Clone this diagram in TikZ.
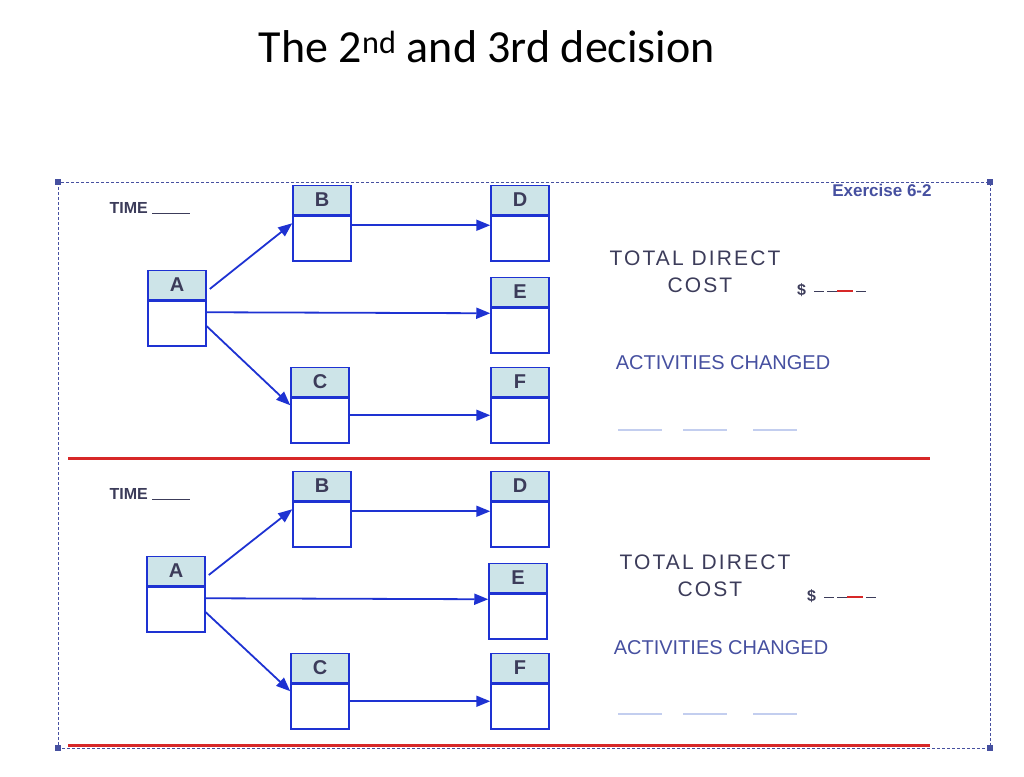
\documentclass[tikz,border=0pt]{standalone}
\usepackage{fontspec}
\setmainfont{Carlito}
\newfontfamily\arl{Liberation Sans}
\usetikzlibrary{arrows.meta}
\definecolor{bx}{RGB}{30,50,210}
\definecolor{hd}{RGB}{205,228,232}
\definecolor{rl}{RGB}{215,40,40}
\definecolor{tx}{RGB}{60,60,90}
\definecolor{lb}{RGB}{70,80,160}
\tikzset{
 hdr/.style={draw=bx,fill=hd,line width=1.5pt,minimum width=58pt,minimum height=29pt,inner sep=0pt,font=\arl\bfseries\fontsize{20}{20}\selectfont,text=tx},
 low/.style={draw=bx,line width=1.5pt,minimum width=58pt,minimum height=45pt,inner sep=0pt},
 arr/.style={draw=bx,line width=1.8pt,-{Triangle[length=14pt,width=11pt]}},
 lab/.style={font=\arl\fontsize{20}{20}\selectfont,text=tx,inner sep=0pt},
 wide/.style={font=\arl\fontsize{21}{21}\selectfont\addfontfeature{LetterSpace=10}},
 blab/.style={font=\arl\bfseries\fontsize{16}{16}\selectfont,text=tx,inner sep=0pt},
 mk/.style={fill=lb,minimum size=6pt,inner sep=0pt}
}
\newcommand{\dollarline}{\$\hspace{8pt}\textcolor{tx}{\rule[3pt]{10pt}{1.5pt}\hspace{3pt}\rule[3pt]{10pt}{1.5pt}}\textcolor{rl}{\rule[3pt]{16pt}{2.5pt}}\hspace{3pt}\textcolor{tx}{\rule[3pt]{10pt}{1.5pt}}}
\begin{document}
\begin{tikzpicture}[x=1pt,y=-1pt]
\useasboundingbox (0,0) rectangle (1024,776);
\node (title) at (487,47) {\fontsize{46}{48}\selectfont The 2\textsuperscript{nd} and 3rd decision};
\draw[lb,densely dashed,line width=0.7pt] (58,182) rectangle (990,748);
\foreach \p [count=\i] in {(58,182),(990,182),(58,748),(990,748)} \node[mk] (m\i) at \p {};
\node[font=\arl\bfseries\fontsize{17}{17}\selectfont,text=lb] (ex) at (882,190) {Exercise 6-2};
\draw[rl,line width=3pt] (68,458) -- (930,458);
\draw[rl,line width=3pt] (68,745) -- (930,745);
\foreach \s/\o/\ax/\ex in {t/0/177/520, b/286/176/518} {
 \begin{scope}[yshift=-\o]
 \node[hdr] (A\s) at (\ax,285) {A};
 \node[low,anchor=north] (A\s l) at (A\s.south) {};
 \node[hdr] (B\s) at (322,200) {B};
 \node[low,anchor=north] (B\s l) at (B\s.south) {};
 \node[hdr] (D\s) at (520,200) {D};
 \node[low,anchor=north] (D\s l) at (D\s.south) {};
 \node[hdr] (E\s) at (\ex,292) {E};
 \node[low,anchor=north] (E\s l) at (E\s.south) {};
 \node[hdr] (C\s) at (320,382) {C};
 \node[low,anchor=north] (C\s l) at (C\s.south) {};
 \node[hdr] (F\s) at (520,382) {F};
 \node[low,anchor=north] (F\s l) at (F\s.south) {};
 \draw[arr] ([xshift=3pt,yshift=-4pt]A\s.east) -- ([yshift=-8pt]B\s.south west);
 \draw[arr] ([yshift=-12pt]A\s l.north east) -- ([yshift=-6pt]E\s l.north west);
 \draw[arr] ([yshift=-26pt]A\s l.north east) -- ([yshift=-8pt]C\s.south west);
 \draw[arr] ([yshift=-10pt]B\s l.north east) -- ([yshift=-10pt]D\s l.north west);
 \draw[arr] ([yshift=-18pt]C\s l.north east) -- ([yshift=-18pt]F\s l.north west);
 \node[blab] (time\s) at (150,208) {TIME \rule[-1pt]{38pt}{0.7pt}};
 \end{scope}
}
\node[lab,wide] (td1) at (695,258) {TOTAL DIRECT};
\node[lab,wide] (co1) at (700,285) {COST};
\node[blab,anchor=west] (d1) at (797,290) {\dollarline};
\node[lab,text=lb] (ac1) at (723,363) {ACTIVITIES CHANGED};
\node[lab,wide] (td2) at (705,562) {TOTAL DIRECT};
\node[lab,wide] (co2) at (710,589) {COST};
\node[blab,anchor=west] (d2) at (807,596) {\dollarline};
\node[lab,text=lb] (ac2) at (721,648) {ACTIVITIES CHANGED};
\foreach \y in {430,714}{
 \foreach \x in {640,705,775}{\draw[hd!60!bx!50,line width=1.5pt] (\x-22,\y)--(\x+22,\y);}
}
\end{tikzpicture}
\end{document}
